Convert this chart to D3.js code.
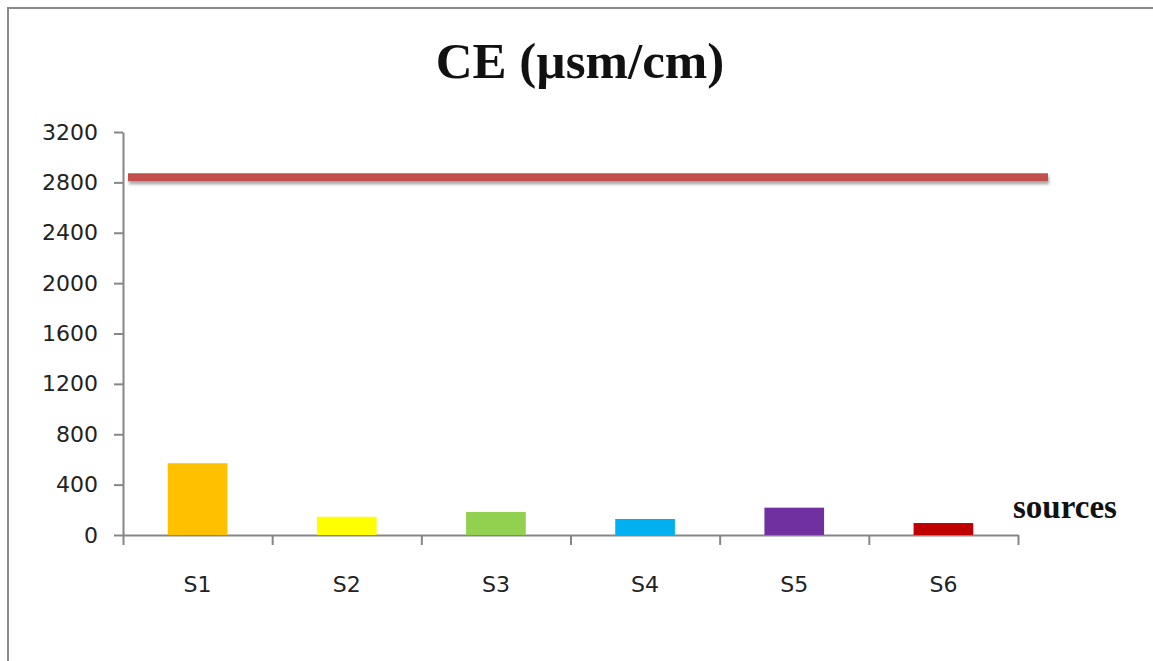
<!DOCTYPE html>
<html>
<head>
<meta charset="utf-8">
<script src="https://cdn.jsdelivr.net/npm/d3@7"></script>
<style>
  body { margin: 0; background: #ffffff; }
  svg { display: block; }
</style>
</head>
<body>
<svg id="chart"></svg>
<script>
// podaci očitani sa slike
const categories = ["S1", "S2", "S3", "S4", "S5", "S6"];
const ceValues = [570, 145, 183, 127, 217, 95];
const barColors = ["#ffc000", "#ffff00", "#92d050", "#00b0f0", "#7030a0", "#c00000"];
const yTicks = [0, 400, 800, 1200, 1600, 2000, 2400, 2800, 3200];
const limitValue = 2840;

const width = 1153;
const height = 661;
const margin = { top: 132, right: 135, bottom: 126, left: 123 };

const svg = d3.select("#chart")
    .attr("width", width)
    .attr("height", height);

const innerWidth = width - margin.left - margin.right;
const innerHeight = height - margin.top - margin.bottom;

// sjena za crvenu liniju
const defs = svg.append("defs");
const shadow = defs.append("filter")
    .attr("id", "shadow")
    .attr("filterUnits", "userSpaceOnUse")
    .attr("x", 0).attr("y", -margin.top)
    .attr("width", width).attr("height", height);
shadow.append("feDropShadow")
    .attr("dx", 1).attr("dy", 3)
    .attr("stdDeviation", 1.6)
    .attr("flood-color", "#000")
    .attr("flood-opacity", 0.35);

// okvir (gore i lijevo)
svg.append("path")
    .attr("d", `M8,${height} L8,8 L${width},8`)
    .attr("fill", "none")
    .attr("stroke", "#8a8a8a")
    .attr("stroke-width", 2);

const g = svg.append("g")
    .attr("transform", `translate(${margin.left},${margin.top})`);

const xScale = d3.scaleBand()
    .domain(categories)
    .range([0, innerWidth])
    .paddingInner(0.6)
    .paddingOuter(0.3);

// granice kategorija za crtice na x osi
const xEdges = d3.scaleLinear()
    .domain([0, categories.length])
    .range([0, innerWidth]);

const yScale = d3.scaleLinear()
    .domain([0, d3.max(yTicks)])
    .range([innerHeight, 0]);

// Y os
const yAxis = g.append("g")
    .call(d3.axisLeft(yScale)
        .tickValues(yTicks)
        .tickFormat(d3.format("d"))
        .tickSize(9)
        .tickSizeOuter(0)
        .tickPadding(16));
yAxis.selectAll("text")
    .style("font-family", "'DejaVu Sans', sans-serif")
    .style("font-size", "22px")
    .style("fill", "#222");

// X os - crtice na granicama
const xAxis = g.append("g")
    .attr("transform", `translate(0,${innerHeight})`)
    .call(d3.axisBottom(xEdges)
        .tickValues(d3.range(0, categories.length + 1))
        .tickSize(10)
        .tickSizeOuter(0));
xAxis.selectAll("text").remove();

// X os - oznake kategorija
const xLabels = g.append("g")
    .attr("transform", `translate(0,${innerHeight})`)
    .call(d3.axisBottom(xScale).tickSize(0).tickPadding(41));
xLabels.select(".domain").remove();
xLabels.selectAll("text")
    .style("font-family", "'DejaVu Sans', sans-serif")
    .style("font-size", "22px")
    .style("fill", "#222");

g.selectAll(".domain, .tick line")
    .attr("stroke", "#868686")
    .attr("stroke-width", 2);

// Stupci
g.selectAll(".bar")
    .data(categories)
    .enter()
    .append("rect")
    .attr("class", "bar")
    .attr("x", d => xScale(d))
    .attr("y", (d, i) => yScale(ceValues[i]))
    .attr("width", xScale.bandwidth())
    .attr("height", (d, i) => innerHeight - yScale(ceValues[i]))
    .attr("fill", (d, i) => barColors[i]);

// granična vrijednost
g.append("line")
    .attr("x1", xEdges(0) + 5)
    .attr("x2", xEdges(categories.length) + 30)
    .attr("y1", yScale(limitValue))
    .attr("y2", yScale(limitValue))
    .attr("stroke", "#c0504d")
    .attr("stroke-width", 8)
    .attr("filter", "url(#shadow)");

// naziv x osi
g.append("text")
    .attr("x", innerWidth - 5)
    .attr("y", innerHeight - 17)
    .attr("font-family", "'Liberation Serif', serif")
    .attr("font-weight", "bold")
    .attr("font-size", "33px")
    .attr("fill", "#111")
    .text("sources");

// Naslov grafa
svg.append("text")
    .attr("x", 580)
    .attr("y", 78)
    .attr("text-anchor", "middle")
    .attr("font-family", "'Liberation Serif', serif")
    .attr("font-weight", "bold")
    .attr("font-size", "51px")
    .attr("fill", "#111")
    .text("CE (µsm/cm)");
</script>
</body>
</html>
